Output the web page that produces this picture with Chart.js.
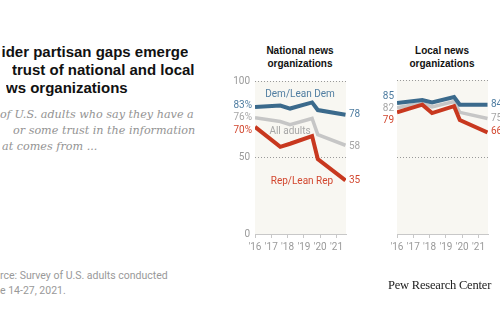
<!DOCTYPE html>
<html>
<head>
<meta charset="utf-8">
<script src="https://cdn.jsdelivr.net/npm/chart.js@4.4.1/dist/chart.umd.min.js"></script>
<style>
  body { margin: 0; width: 500px; height: 332px; overflow: hidden; position: relative; background: #fff; font-family: Roboto, sans-serif; }
  .abs { position: absolute; white-space: nowrap; }
  /* lines that run off the left edge of the picture: the cut part sits outside the box */
  .line { position: absolute; white-space: nowrap; overflow: hidden; }
  .cut { position: absolute; right: 100%; }
  .title { font: bold 15px/18px "Liberation Sans", sans-serif; color: #111; }
  .sub { font: italic 11.2px/16px "DejaVu Serif", serif; color: #939393; }
  .panel { top: 45px; width: 140px; text-align: center; font: bold 10px/12.6px "Liberation Sans", sans-serif; color: #111; }
  .note { font: 10.5px/14px Roboto, sans-serif; color: #999; }
  .logo { left: 388px; top: 278px; font: 12.5px "Liberation Serif", serif; color: #222; letter-spacing: -0.2px; }
  .box { position: absolute; top: 70px; }
</style>
</head>
<body>
<div class="line title" style="left:1.5px;top:43px"><span class="cut">W</span>ider partisan gaps emerge</div>
<div class="line title" style="left:12px;top:61px"><span class="cut">in </span>trust of national and local</div>
<div class="line title" style="left:6px;top:79px"><span class="cut">ne</span>ws organizations</div>
<div class="line sub" style="left:0px;top:107px"><span class="cut">% </span>of U.S. adults who say they have a</div>
<div class="line sub" style="left:13px;top:122.5px"><span class="cut">lot </span>or some trust in the information</div>
<div class="line sub" style="left:2px;top:138.5px"><span class="cut">th</span>at comes from ...</div>
<div class="abs panel" style="left:230px">National news<br>organizations</div>
<div class="abs panel" style="left:372px">Local news<br>organizations</div>
<div class="box" style="left:220px"><canvas id="national" width="148" height="190"></canvas></div>
<div class="box" style="left:362px"><canvas id="local" width="148" height="190"></canvas></div>
<div class="line note" style="left:0px;top:269px"><span class="cut">Sou</span>rce: Survey of U.S. adults conducted</div>
<div class="line note" style="left:0px;top:283.5px"><span class="cut">Jun</span>e 14-27, 2021.</div>
<div class="abs logo">Pew Research Center</div>
<script>
// survey waves (decimal years) and tick labels
const years = [2016, 2017.55, 2018.15, 2019.5, 2019.85, 2021.55];
const yearTicks = ["'16", "'17", "'18", "'19", "'20", "'21"];
const seriesNames = ['Dem/Lean Dem', 'All adults', 'Rep/Lean Rep'];

// % with a lot of / some trust
const nationalDem = [83, 84, 82, 86, 81, 78];
const nationalAll = [76, 73.5, 71.5, 75.5, 65, 58];
const nationalRep = [70, 57, 59, 64, 49, 35];

const localDem = [85, 87, 85.5, 89, 84, 84];
const localAll = [82, 85, 82.5, 86, 79, 75];
const localRep = [79, 84, 78.5, 83, 74, 66];

const lineColors = ['#3b6a8c', '#c6c6c6', '#c8381f'];
const textColors = ['#4f7da1', '#a6a6a6', '#d2472f'];

function points(vals) {
  return years.map((t, k) => ({ x: t, y: vals[k] }));
}

// beige plot area + start/end value labels + series names
const labelPlugin = {
  id: 'lineLabels',
  beforeDraw(chart) {
    const a = chart.chartArea, ctx = chart.ctx;
    ctx.save();
    ctx.fillStyle = '#f8f7f2';
    ctx.fillRect(a.left, a.top, a.right - a.left, a.bottom - a.top);
    ctx.restore();
  },
  afterDatasetsDraw(chart, args, opts) {
    const ctx = chart.ctx, a = chart.chartArea;
    const xs = chart.scales.x, ys = chart.scales.y;
    ctx.save();
    ctx.font = '10px Roboto';
    ctx.textBaseline = 'middle';
    chart.data.datasets.forEach((ds, i) => {
      const first = ds.data[0], last = ds.data[ds.data.length - 1];
      ctx.fillStyle = textColors[i];
      ctx.textAlign = 'right';
      ctx.fillText(first.y + opts.suffix, a.left - 3, ys.getPixelForValue(first.y) + opts.startShift[i]);
      ctx.textAlign = 'left';
      ctx.fillText(String(last.y), a.right + 3, ys.getPixelForValue(last.y) + opts.endShift[i]);
      if (opts.names) {
        const s = opts.names[i];
        ctx.textAlign = 'center';
        ctx.fillText(seriesNames[i], xs.getPixelForValue(s[0]), ys.getPixelForValue(s[1]));
      }
    });
    ctx.restore();
  }
};

function makePanel(id, dem, all, rep, showY, labelOpts) {
  return new Chart(document.getElementById(id), {
    type: 'line',
    data: {
      datasets: [
        { label: seriesNames[0], data: points(dem), borderColor: lineColors[0], borderWidth: 4, order: 1 },
        { label: seriesNames[1], data: points(all), borderColor: lineColors[1], borderWidth: 3.5, order: 2 },
        { label: seriesNames[2], data: points(rep), borderColor: lineColors[2], borderWidth: 4, order: 0 }
      ]
    },
    options: {
      responsive: false,
      animation: false,
      devicePixelRatio: 1,
      layout: { padding: { top: 10, right: 22, left: 0, bottom: 0 } },
      elements: { point: { radius: 0 }, line: { tension: 0 } },
      scales: {
        x: {
          type: 'linear',
          min: 2016,
          max: 2021.58,
          afterBuildTicks: s => { s.ticks = yearTicks.map((_, k) => ({ value: 2016 + k })); },
          afterFit: s => { s.height = 26; },
          ticks: {
            callback: v => yearTicks[v - 2016],
            color: '#9a9a9a',
            font: { size: 10, family: 'Roboto' },
            padding: 3,
            maxRotation: 0,
            autoSkip: false
          },
          grid: { drawOnChartArea: false, tickLength: 4, color: '#c8c8c8' },
          border: { color: '#c8c8c8' }
        },
        y: {
          min: 0,
          max: 100,
          afterBuildTicks: s => { s.ticks = [0, 50, 100].map(v => ({ value: v })); },
          afterFit: s => { s.width = 35; },
          ticks: {
            display: showY,
            color: '#9a9a9a',
            font: { size: 10, family: 'Roboto' },
            padding: 5
          },
          grid: {
            drawTicks: false,
            color: c => c.tick.value === 0 ? 'rgba(0,0,0,0)' : '#999'
          },
          border: { display: false, dash: [1, 2] }
        }
      },
      plugins: {
        legend: { display: false },
        tooltip: { enabled: false },
        lineLabels: labelOpts
      }
    },
    plugins: [labelPlugin]
  });
}

makePanel('national', nationalDem, nationalAll, nationalRep, true, {
  suffix: '%',
  startShift: [-2, 0, 4],
  endShift: [0, 1, 0],
  names: [[2018.76, 91.5], [2018.15, 67], [2018.88, 34]]
});
makePanel('local', localDem, localAll, localRep, false, {
  suffix: '',
  startShift: [-7, 1, 8],
  endShift: [0, 0, -1]
});
</script>
</body>
</html>
